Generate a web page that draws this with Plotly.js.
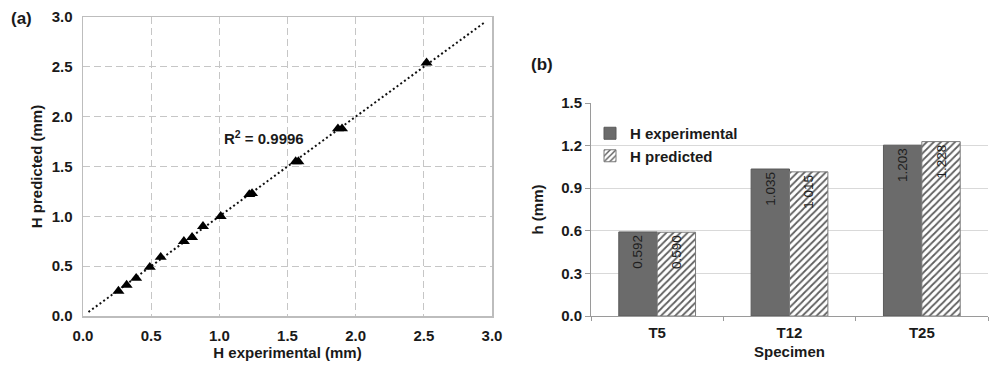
<!DOCTYPE html>
<html>
<head>
<meta charset="utf-8">
<script src="https://cdn.plot.ly/plotly-3.0.1.min.js"></script>
<style>html,body{margin:0;padding:0;background:#fff;}#chart{width:991px;height:366px;}</style>
</head>
<body>
<div id="chart"></div>
<script>
// (a) scatter: experimental vs predicted H (mm)
const hExperimental = [0.26, 0.32, 0.39, 0.49, 0.57, 0.74, 0.80, 0.88, 1.01, 1.22, 1.24, 1.56, 1.58, 1.87, 1.90, 2.52];
const hPredicted    = [0.25, 0.31, 0.38, 0.49, 0.59, 0.75, 0.79, 0.90, 1.00, 1.22, 1.23, 1.55, 1.55, 1.88, 1.88, 2.54];
const trendX = [0.04, 2.95];
const trendY = [0.04, 2.95];
const r2Text = "R<sup>2</sup> = 0.9996";

// (b) bars
const specimens = ["T5", "T12", "T25"];
const barExperimental = [0.592, 1.035, 1.203];
const barPredicted = [0.590, 1.015, 1.228];
const labelsExperimental = ["0.592", "1.035", "1.203"];
const labelsPredicted = ["0.590", "1.015", "1.228"];

const W = 991, H = 366;
const FONT = "Liberation Sans, Arial, sans-serif";
const px = v => v / W;
const py = v => 1 - v / H;

const traces = [
  {
    x: trendX, y: trendY, type: "scatter", mode: "lines",
    line: {color: "#111", width: 2, dash: "2px,2.6px"},
    showlegend: false, hoverinfo: "skip", xaxis: "x", yaxis: "y"
  },
  {
    x: hExperimental, y: hPredicted, type: "scatter", mode: "markers",
    marker: {symbol: "triangle-up", size: 10.5, color: "#000"},
    showlegend: false, xaxis: "x", yaxis: "y"
  },
  {
    x: specimens, y: barExperimental, type: "bar", name: "H experimental",
    marker: {color: "#6b6b6b", line: {color: "#5a5a5a", width: 1}},
    text: labelsExperimental, textposition: "inside", insidetextanchor: "end",
    textangle: -90, textfont: {family: FONT, size: 13.5, color: "#1e1e1e"},
    constraintext: "none",
    xaxis: "x2", yaxis: "y2"
  },
  {
    x: specimens, y: barPredicted, type: "bar", name: "H predicted",
    marker: {color: "#ffffff", line: {color: "#7a7a7a", width: 1},
             pattern: {shape: "/", fgcolor: "#5e5e5e", bgcolor: "#ffffff", size: 5, solidity: 0.35}},
    text: labelsPredicted, textposition: "inside", insidetextanchor: "end",
    textangle: -90, textfont: {family: FONT, size: 13.5, color: "#1e1e1e"},
    constraintext: "none",
    xaxis: "x2", yaxis: "y2"
  }
];

const tickFont = {family: FONT, size: 15, color: "#1a1a1a", weight: "bold"};
const titleFont = {family: FONT, size: 15, color: "#1a1a1a", weight: "bold"};

const layout = {
  width: W, height: H,
  margin: {l: 0, r: 0, t: 0, b: 0},
  paper_bgcolor: "#fff", plot_bgcolor: "#fff",
  font: {family: FONT},
  bargap: 0.42, bargroupgap: 0,
  xaxis: {
    domain: [px(83), px(492)], range: [0, 3], dtick: 0.5, tickformat: ".1f",
    anchor: "y",
    showgrid: true, gridcolor: "#c6c6c6", griddash: "7px,4px", gridwidth: 1,
    zeroline: false, showline: true, mirror: true, linecolor: "#bdbdbd", linewidth: 1.5,
    ticks: "", tickfont: tickFont, ticklabelstandoff: 5, fixedrange: true,
    title: {text: "H experimental (mm)", font: titleFont, standoff: 5}
  },
  yaxis: {
    domain: [py(316), py(17)], range: [0, 3], dtick: 0.5, tickformat: ".1f",
    anchor: "x",
    showgrid: true, gridcolor: "#c6c6c6", griddash: "7px,4px", gridwidth: 1,
    zeroline: false, showline: true, mirror: true, linecolor: "#bdbdbd", linewidth: 1.5,
    ticks: "", tickfont: tickFont, ticklabelstandoff: 6, fixedrange: true,
    title: {text: "H predicted (mm)", font: titleFont, standoff: 5}
  },
  xaxis2: {
    domain: [px(591), px(988)], type: "category", anchor: "y2",
    showgrid: false, zeroline: false, showline: true, linecolor: "#9a9a9a", linewidth: 1,
    ticks: "outside", tickson: "boundaries", ticklen: 4, tickcolor: "#9a9a9a",
    tickfont: tickFont, ticklabelstandoff: 3, fixedrange: true,
    title: {text: "Specimen", font: titleFont, standoff: 6}
  },
  yaxis2: {
    domain: [py(316), py(103)], range: [0, 1.5], dtick: 0.3, tickformat: ".1f",
    anchor: "x2",
    showgrid: true, gridcolor: "#d9d9d9", gridwidth: 1,
    zeroline: false, showline: true, linecolor: "#9a9a9a", linewidth: 1,
    ticks: "outside", ticklen: 5, tickcolor: "#9a9a9a",
    tickfont: tickFont, fixedrange: true,
    title: {text: "h (mm)", font: titleFont, standoff: 13}
  },
  legend: {
    x: px(590), y: py(117), xanchor: "left", yanchor: "top",
    bgcolor: "rgba(0,0,0,0)", font: {family: FONT, size: 15, color: "#1a1a1a", weight: "bold"},
    itemwidth: 30, tracegroupgap: 0, traceorder: "normal"
  },
  annotations: [
    {text: r2Text, xref: "x", yref: "y", x: 1.33, y: 1.79, showarrow: false,
     font: {family: FONT, size: 15, color: "#1a1a1a", weight: "bold"}},
    {text: "(a)", xref: "paper", yref: "paper", x: px(21), y: py(18), xanchor: "center", yanchor: "middle",
     showarrow: false, font: {family: FONT, size: 17, color: "#1a1a1a", weight: "bold"}},
    {text: "(b)", xref: "paper", yref: "paper", x: px(542), y: py(65), xanchor: "center", yanchor: "middle",
     showarrow: false, font: {family: FONT, size: 17, color: "#1a1a1a", weight: "bold"}}
  ]
};

Plotly.newPlot("chart", traces, layout, {displayModeBar: false, staticPlot: true});
</script>
</body>
</html>
